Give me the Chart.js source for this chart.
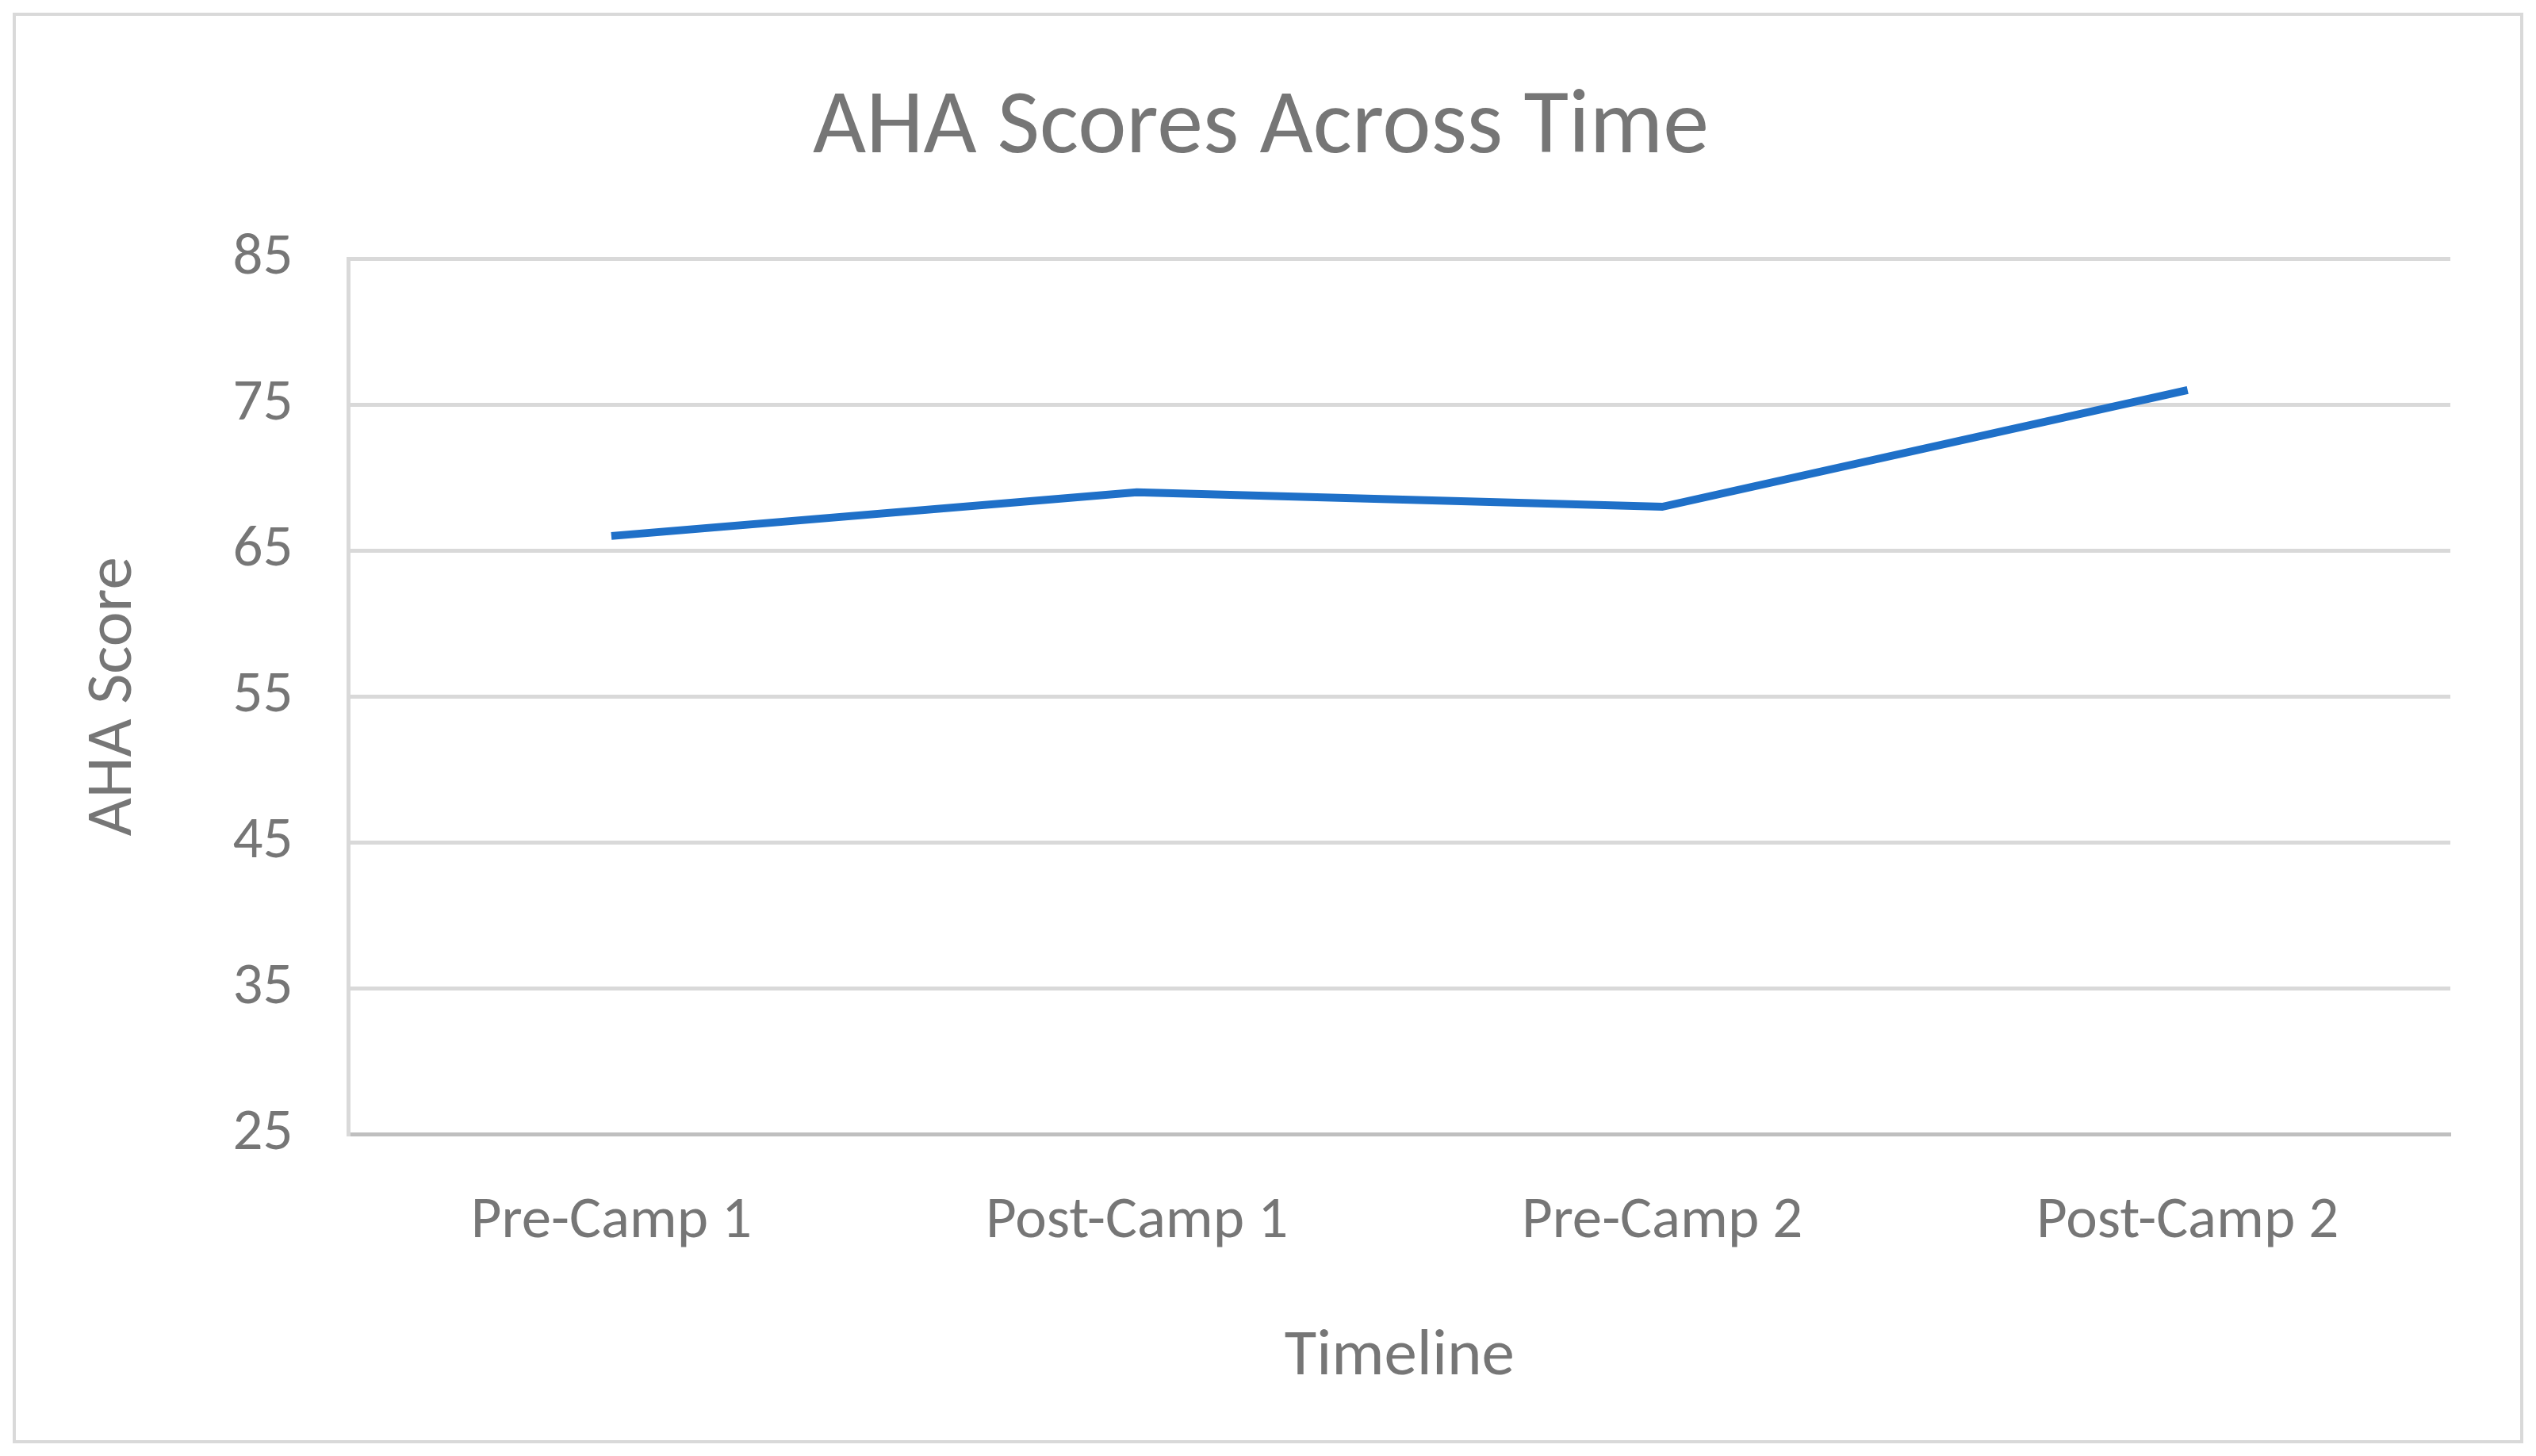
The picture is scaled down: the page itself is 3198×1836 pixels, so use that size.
<!DOCTYPE html>
<html><head><meta charset="utf-8">
<script src="https://cdn.jsdelivr.net/npm/chart.js@4/dist/chart.umd.min.js"></script>
<style>
body{margin:0;background:#fff;overflow:hidden}
#frame{position:absolute;left:16px;top:16px;width:3158px;height:1796px;border:4px solid #d9d9d9}
canvas{position:absolute;left:0;top:0}
</style></head><body>
<div id="frame"></div>
<canvas id="c" width="3198" height="1836"></canvas>
<script>
const categories = ["Pre-Camp 1","Post-Camp 1","Pre-Camp 2","Post-Camp 2"];
const ahaScores = [66, 69, 68, 76];
const yTicks = [25,35,45,55,65,75,85];
const txt = '#767676';
const ff = 'Carlito, "Open Sans", "Liberation Sans", sans-serif';
new Chart(document.getElementById('c'), {
  type:'line',
  data:{labels:categories, datasets:[{data:ahaScores, borderColor:'#1f70c8', borderWidth:10, pointRadius:0, tension:0, fill:false}]},
  options:{
    responsive:false, animation:false, devicePixelRatio:1,
    layout:{padding:{left:90,right:108,top:93,bottom:70}},
    plugins:{legend:{display:false}, tooltip:{enabled:false},
      title:{display:true,text:'AHA Scores Across Time',color:txt,font:{family:ff,size:116,weight:'normal'},padding:{top:0,bottom:94}}},
    scales:{
      x:{offset:true, grid:{display:false, drawTicks:false}, border:{color:'#bfbfbf',width:5},
         ticks:{color:txt,font:{family:ff,size:75},padding:66},
         title:{display:true,text:'Timeline',color:txt,font:{family:ff,size:83},padding:{top:10}}},
      y:{min:25,max:85, afterBuildTicks:ax=>{ax.ticks=yTicks.map(v=>({value:v}));},
         grid:{color:'#d9d9d9',lineWidth:5,drawTicks:false}, border:{color:'#d9d9d9',width:5},
         ticks:{color:txt,font:{family:ff,size:75},padding:70},
         title:{display:true,text:'AHA Score',color:txt,font:{family:ff,size:83},padding:{bottom:30}}}
    }
  }
});
</script></body></html>
